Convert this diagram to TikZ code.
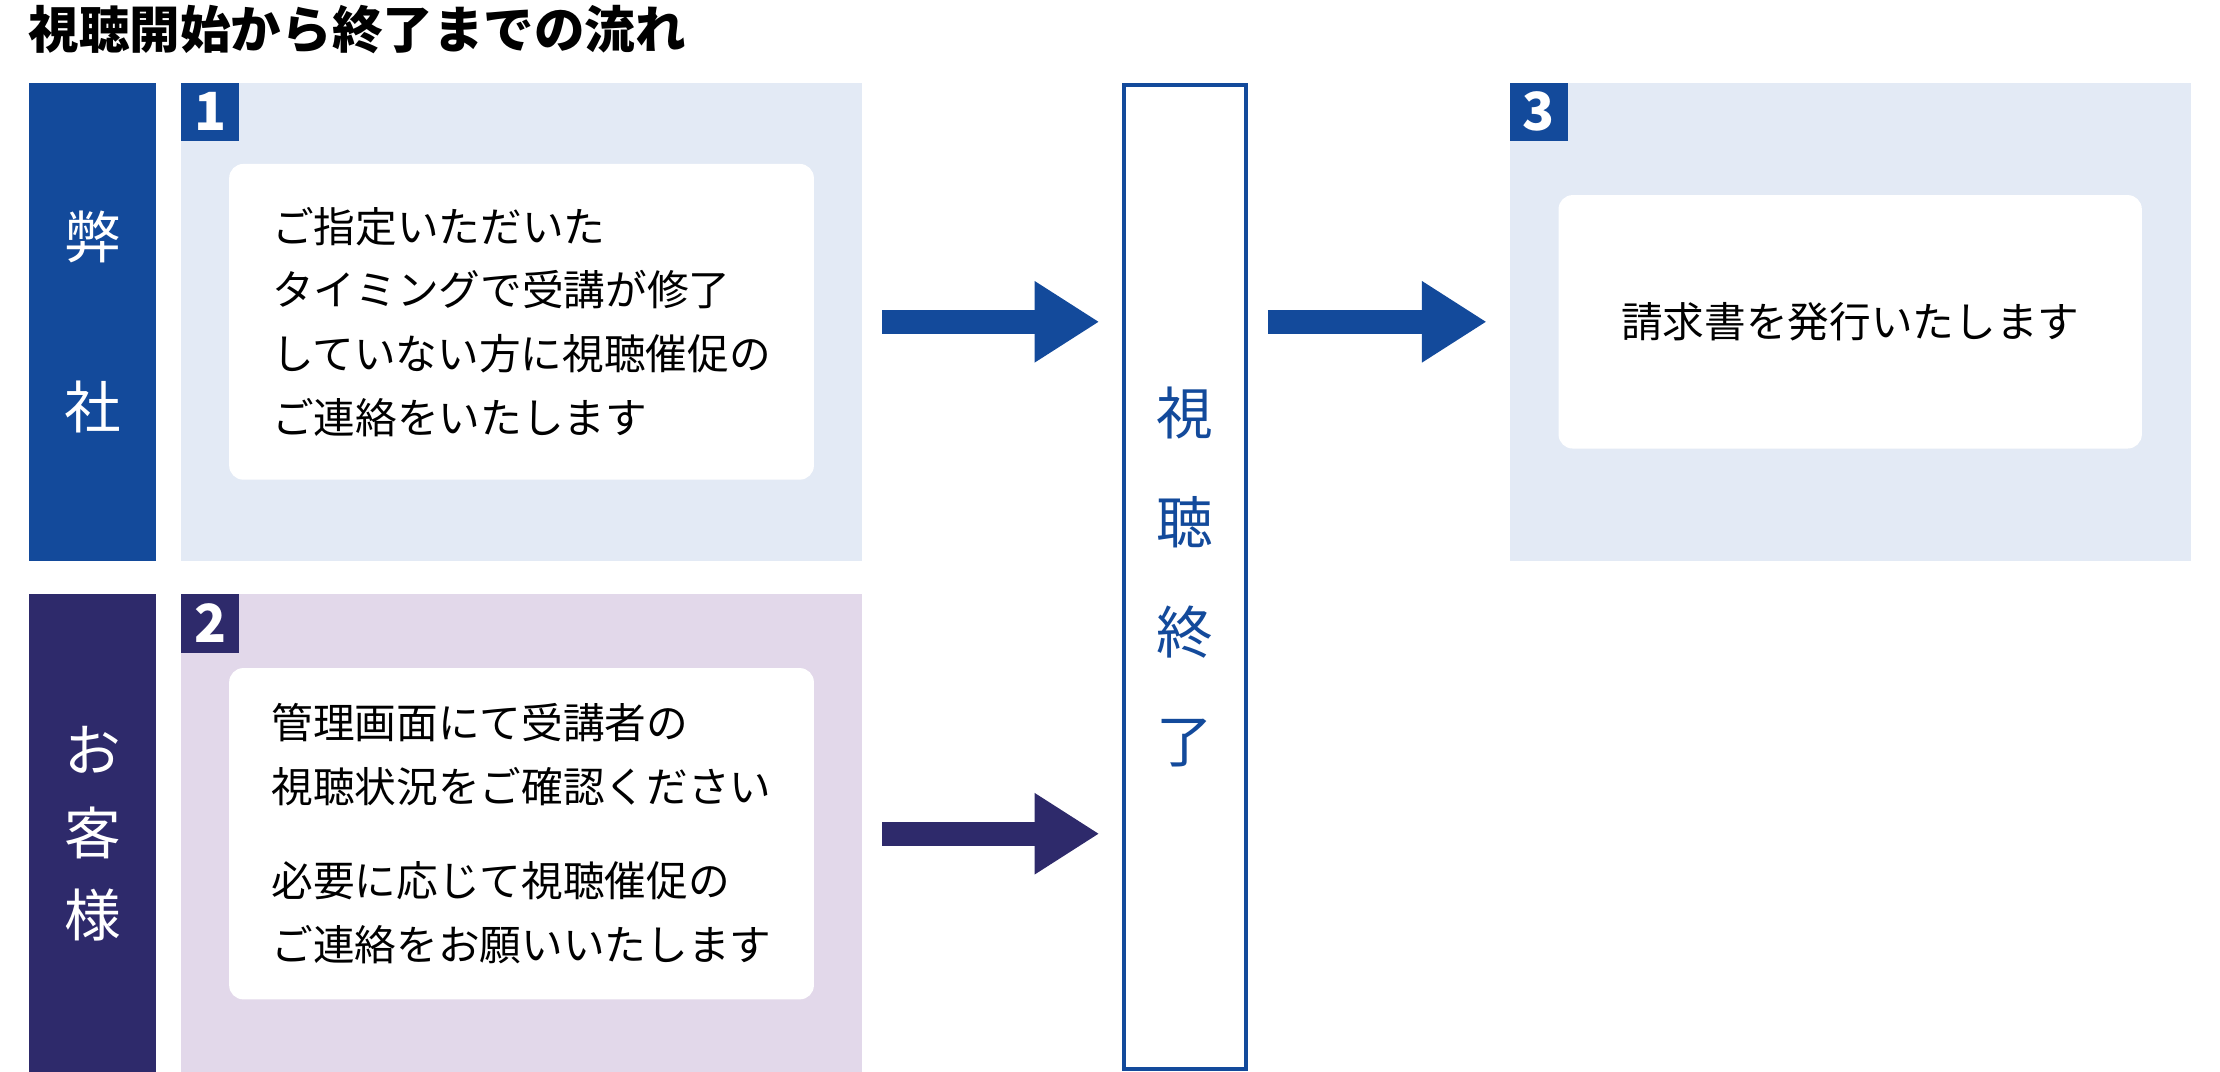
\documentclass[tikz,border=0pt]{standalone}
\usepackage{fontspec}
\setmainfont{Noto Sans CJK JP}
\usepackage{tikz}
\usetikzlibrary{arrows.meta,positioning}
\definecolor{flowblue}{RGB}{19,74,155}
\definecolor{flownavy}{RGB}{46,42,107}
\definecolor{paleblue}{RGB}{227,234,245}
\definecolor{palepurple}{RGB}{226,216,234}
\tikzstyle{sidebar} = [rectangle, minimum width=63pt, minimum height=236.6pt,
    inner sep=0pt, text=white, align=center]
\tikzstyle{panel} = [rectangle, minimum width=336.7pt, minimum height=236.6pt,
    inner sep=0pt]
\tikzstyle{numbox} = [rectangle, minimum size=28.7pt, inner sep=0pt, text=white,
    font=\fontsize{26}{26}\selectfont\bfseries]
\tikzstyle{card} = [rectangle, rounded corners=7pt, fill=white, minimum width=289.1pt,
    align=left, inner sep=0pt, font=\fontsize{20.6}{31.5}\selectfont]
\tikzstyle{bigarrow} = [line width=12pt, -{Triangle[length=32pt,width=38pt]},
    shorten <=9.8pt, shorten >=11.2pt]

\begin{document}
\begin{tikzpicture}[x=0.7pt, y=-0.7pt]
  \useasboundingbox (0,0) rectangle (1568,757);
  % Title
  \node [anchor=west, inner sep=0pt, font=\fontsize{25}{25}\selectfont\bfseries] (title)
  at (20,21) {視聴開始から終了までの流れ};
  % Left column
  \node [sidebar, fill=flowblue, anchor=north west, font=\fontsize{28}{84}\selectfont]
  (us) at (20,58) {弊\\社};
  \node [sidebar, fill=flownavy, below=16.1pt of us, font=\fontsize{28}{41}\selectfont]
  (client) {お\\客\\様};
  \node [panel, fill=paleblue, right=11.9pt of us] (p1) {};
  \node [panel, fill=palepurple, right=11.9pt of client] (p2) {};
  \node [numbox, fill=flowblue, anchor=north west] (n1) at (p1.north west) {1};
  \node [numbox, fill=flownavy, anchor=north west] (n2) at (p2.north west) {2};
  \node [card, minimum height=156.1pt] (c1) at (p1.center)
  {ご指定いただいた\\タイミングで受講が修了\\していない方に視聴催促の\\ご連絡をいたします};
  \node [card, minimum height=163.8pt] (c2) at (p2.center)
  {管理画面にて受講者の\\視聴状況をご確認ください\\[15pt]必要に応じて視聴催促の\\ご連絡をお願いいたします};
  % End of viewing
  \node [draw=flowblue, line width=2.2pt, fill=white, minimum width=60.2pt,
  minimum height=486.5pt, inner sep=0pt, text=flowblue, align=center,
  font=\fontsize{28}{54}\selectfont] (done) at (837,407.5) {視\\聴\\終\\了};
  % Invoice
  \node [panel, fill=paleblue, anchor=north west] (p3) at (1066,58) {};
  \node [numbox, fill=flowblue, anchor=north west] (n3) at (p3.north west) {3};
  \node [card, minimum width=288.4pt, minimum height=125.3pt] (c3) at (p3.center)
  {請求書を発行いたします};
  % Arrows
  \draw [bigarrow, flowblue] (p1.east) -- (p1.east -| done.west);
  \draw [bigarrow, flownavy] (p2.east) -- (p2.east -| done.west);
  \draw [bigarrow, flowblue] (done.east |- p3.west) -- (p3.west);
\end{tikzpicture}
\end{document}
